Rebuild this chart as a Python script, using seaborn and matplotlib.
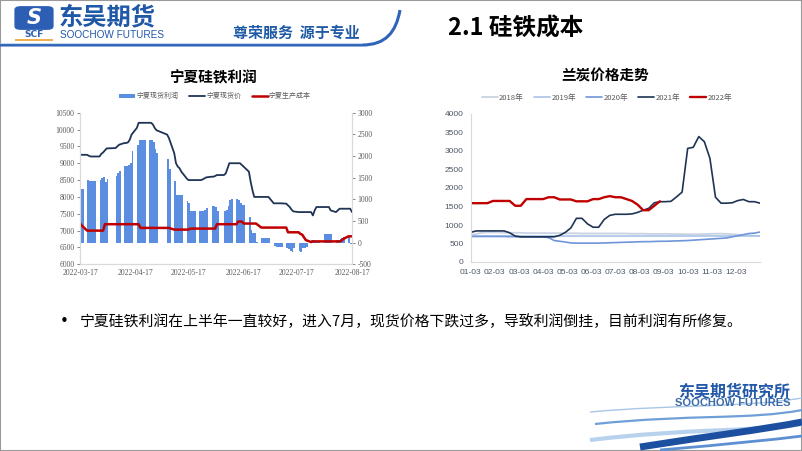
import numpy as np
import pandas as pd
import matplotlib
matplotlib.use("Agg")
import matplotlib.pyplot as plt
import seaborn as sns
from matplotlib.patches import Patch, PathPatch, FancyBboxPatch, Rectangle
from matplotlib.lines import Line2D
from matplotlib.path import Path
import matplotlib.dates as mdates

# ---------------- data: 宁夏硅铁利润 (trading days 2022-03-17 .. 2022-08-17) ----------------
holidays = ["2022-04-04", "2022-04-05", "2022-05-02", "2022-05-03", "2022-05-04", "2022-06-03"]
trade_dates = pd.bdate_range("2022-03-17", "2022-08-17", freq="C", holidays=holidays)

profit = [1230, 1230,
          1440, 1420, 1420, 1420, 1420,
          1440, 1490, 1510, 1410, 1480,
          1530, 1600, 1660,
          1780, 1780, 1790, 1850, 2120,
          2250, 2360, 2360, 2360, 2360,
          2370, 2370, 2330, 2170, 2080,
          1930, 1710,
          1420, 1110, 1110, 1110, 1110,
          950, 920, 720, 720, 720,
          720, 720, 730, 750, 790,
          840, 840, 820, 720,
          720, 760, 850, 990, 1000,
          1000, 990, 920, 880, 860,
          600, 300, 220, 220, 10,
          110, 110, 110, 110, 110,
          -80, -90, -90, -90, -90,
          -120, -150, -200, -210, -130,
          -200, -210, -130, -120, -110,
          50, 50, 40, 10, 10,
          210, 210, 210, 210, 210,
          60, 70, 80, 110, 120,
          130, -20, -30]

price = [9250, 9250,
         9250, 9220, 9200, 9200, 9200,
         9200, 9280, 9320, 9380, 9440,
         9450, 9500, 9550,
         9600, 9600, 9620, 9700, 9850,
         10050, 10200, 10200, 10200, 10200,
         10200, 10200, 10150, 10050, 9980,
         9850, 9750,
         9300, 9000, 8900, 8850, 8750,
         8550, 8500, 8500, 8500, 8500,
         8500, 8500, 8520, 8550, 8580,
         8600, 8600, 8620, 8650,
         8650, 8700, 8850, 9000, 9000,
         9000, 9000, 9000, 8950, 8900,
         8750, 8450, 8200, 8000, 8000,
         8000, 8000, 8000, 8000, 8000,
         7810, 7810, 7810, 7810, 7810,
         7800, 7750, 7700, 7620, 7570,
         7550, 7550, 7550, 7550, 7550,
         7550, 7450, 7600, 7700, 7700,
         7700, 7700, 7700, 7700, 7600,
         7550, 7600, 7650, 7650, 7650,
         7650, 7650, 7550]

cost = [7220, 7150,
        7000, 7000, 7000, 7000, 7000,
        7000, 7000, 7000, 7190, 7190,
        7190, 7190, 7190,
        7190, 7190, 7190, 7190, 7190,
        7190, 7190, 7080, 7080, 7080,
        7080, 7080, 7080, 7080, 7080,
        7080, 7080,
        7030, 7030, 7030, 7030, 7030,
        7030, 7030, 7060, 7060, 7060,
        7060, 7060, 7060, 7060, 7060,
        7060, 7060, 7060, 7190,
        7190, 7190, 7190, 7190, 7190,
        7190, 7270, 7270, 7270, 7210,
        7210, 7210, 7210, 7210, 7210,
        7090, 7090, 7090, 7090, 7090,
        7090, 7090, 7090, 7090, 7090,
        7090, 6950, 6950, 6950, 6950,
        6950, 6900, 6880, 6800, 6720,
        6660, 6680, 6680, 6680, 6680,
        6680, 6680, 6680, 6680, 6680,
        6680, 6680, 6680, 6700, 6750,
        6830, 6830, 6830]

left_xticks = ["2022-03-17", "2022-04-17", "2022-05-17", "2022-06-17", "2022-07-17", "2022-08-17"]
left_legend = ["宁夏现货利润", "宁夏现货价", "宁夏生产成本"]

# ---------------- data: 兰炭价格走势 (weekly, 53 points over a year) ----------------
month_labels = ["01-03", "02-03", "03-03", "04-03", "05-03", "06-03",
                "07-03", "08-03", "09-03", "10-03", "11-03", "12-03"]
weeks = np.arange(53)

y2018 = [730, 760, 790, 800, 800, 800, 790, 790, 790, 790, 780, 780, 780, 780,
         780, 780, 780, 775, 775, 775, 770, 770, 770, 770, 770, 770, 770, 770,
         770, 765, 765, 765, 760, 760, 760, 760, 755, 755, 755, 750, 750, 750,
         755, 760, 765, 765, 760, 750, 740, 730, 720, 710, 700]
y2019 = [700, 700, 700, 700, 700, 700, 700, 700, 700, 700, 700, 700, 700, 700,
         700, 700, 700, 700, 700, 700, 700, 700, 700, 700, 700, 700, 700, 700,
         700, 700, 700, 700, 700, 700, 700, 700, 700, 700, 700, 700, 700, 700,
         700, 700, 700, 700, 700, 700, 700, 700, 700, 700, 700]
y2020 = [690, 690, 690, 690, 690, 690, 690, 685, 685, 680, 680, 680, 680, 675,
         660, 580, 560, 540, 515, 510, 510, 510, 510, 510, 515, 520, 525, 530,
         535, 540, 545, 550, 550, 555, 560, 560, 565, 570, 575, 580, 590, 600,
         610, 620, 630, 640, 650, 680, 710, 740, 770, 780, 810]
y2021 = [800, 840, 840, 840, 840, 840, 840, 790, 700, 680, 680, 680, 680, 680,
         680, 680, 720, 800, 920, 1180, 1180, 1030, 940, 940, 1150, 1260, 1290, 1290,
         1290, 1300, 1340, 1400, 1450, 1600, 1630, 1630, 1640, 1760, 1890, 3070, 3100, 3390,
         3250, 2800, 1750, 1590, 1590, 1600, 1660, 1690, 1630, 1630, 1590]
y2022 = [1590, 1590, 1590, 1590, 1650, 1650, 1650, 1650, 1520, 1520, 1700, 1700, 1700, 1700,
         1750, 1750, 1690, 1690, 1690, 1640, 1640, 1640, 1700, 1700, 1750, 1780, 1750, 1750,
         1700, 1650, 1550, 1400, 1400, 1520, 1640]
year_labels = ["2018年", "2019年", "2020年", "2021年", "2022年"]

bullet_text = "宁夏硅铁利润在上半年一直较好，进入7月，现货价格下跌过多，导致利润倒挂，目前利润有所修复。"

# ---------------- styling ----------------
sns.set_theme(style="white")
plt.rcParams["font.family"] = ["Noto Sans CJK SC", "DejaVu Sans"]
plt.rcParams["axes.unicode_minus"] = False

W, H = 802, 451
fig = plt.figure(figsize=(W / 100, H / 100), dpi=100)
fig.patch.set_facecolor("white")


def fx(x):
    return x / W


def fy(y):
    return 1 - y / H


def stroke(pts, codes, **kw):
    verts = [(fx(x), fy(y)) for x, y in pts]
    fig.add_artist(PathPatch(Path(verts, codes), transform=fig.transFigure,
                             fill=False, **kw))


TICK_C = "#595959"
SPINE_C = "#d9d9d9"
BAR_C = "#5b8de0"
NAVY = "#1f3455"
RED = "#c00000"

# ---------------- left chart ----------------
axL = fig.add_axes([fx(80), fy(264.3), (352 - 80) / W, (264.3 - 112.7) / H])
axR = axL.twinx()
axR.bar(trade_dates, profit, width=1.0, align="edge", color=BAR_C, linewidth=0)
axL.set_zorder(axR.get_zorder() + 1)
axL.patch.set_visible(False)
sns.lineplot(x=trade_dates, y=price, ax=axL, color=NAVY, linewidth=1.3)
sns.lineplot(x=trade_dates, y=cost, ax=axL, color=RED, linewidth=1.8)

axL.set_ylim(6000, 10500)
axL.set_yticks(np.arange(6000, 10501, 500))
axR.set_ylim(-500, 3000)
axR.set_yticks(np.arange(-500, 3001, 500))
axL.set_xlim(pd.Timestamp(left_xticks[0]), pd.Timestamp(left_xticks[-1]))
axL.set_xticks(pd.to_datetime(left_xticks))
axL.xaxis.set_major_formatter(mdates.DateFormatter("%Y-%m-%d"))
axL.set_xlabel("")
axL.set_ylabel("")
axR.set_ylabel("")
for a in (axL, axR):
    for s in ("left", "right", "bottom"):
        a.spines[s].set_color(SPINE_C)
        a.spines[s].set_linewidth(0.8)
    a.spines["top"].set_visible(False)
    a.tick_params(axis="both", labelsize=5.5, colors=TICK_C, length=2, width=0.5, pad=2)
    for lbl in a.get_xticklabels() + a.get_yticklabels():
        lbl.set_fontfamily("Liberation Serif")
axL.tick_params(axis="x", pad=1.5)

handles = [Patch(facecolor=BAR_C, edgecolor="none"),
           Line2D([], [], color=NAVY, lw=1.3),
           Line2D([], [], color=RED, lw=1.8)]
fig.legend(handles, left_legend, loc="center", bbox_to_anchor=(fx(215), fy(96)),
           ncol=3, frameon=False, fontsize=5, handlelength=2.3, handleheight=0.5,
           columnspacing=1.5, handletextpad=0.2, labelcolor=TICK_C)

fig.text(fx(213), fy(77), "宁夏硅铁利润", ha="center", va="center",
         fontsize=10.5, fontweight="bold", color="black")

# ---------------- right chart ----------------
axC = fig.add_axes([fx(470.7), fy(262), (760 - 470.7) / W, 148 / H])
year_series = [y2018, y2019, y2020, y2021, y2022]
year_colors = ["#c9d3e3", "#a9c4e8", "#6f95da", NAVY, RED]
year_lw = [1.3, 1.2, 1.2, 1.2, 1.7]
for vals, c, lw, lab in zip(year_series, year_colors, year_lw, year_labels):
    sns.lineplot(x=weeks[:len(vals)], y=vals, ax=axC, color=c, linewidth=lw, label=lab)
axC.set_xlim(0, 52)
axC.set_ylim(0, 4000)
axC.set_yticks(np.arange(0, 4001, 500))
axC.set_xticks(np.arange(12) * 52 / 12)
axC.set_xticklabels(month_labels)
axC.set_xlabel("")
axC.set_ylabel("")
for s in ("top", "right"):
    axC.spines[s].set_visible(False)
for s in ("left", "bottom"):
    axC.spines[s].set_color(SPINE_C)
    axC.spines[s].set_linewidth(0.8)
axC.tick_params(axis="both", labelsize=6, colors="#4d5866", length=0, pad=5)
for lbl in axC.get_xticklabels() + axC.get_yticklabels():
    lbl.set_fontfamily("Liberation Sans")
h, l = axC.get_legend_handles_labels()
axC.get_legend().remove()
fig.legend(h, l, loc="center", bbox_to_anchor=(fx(607), fy(98)), ncol=5,
           frameon=False, fontsize=5.5, handlelength=2.1, columnspacing=1.3,
           handletextpad=0.2, labelcolor="#595959")
fig.text(fx(605), fy(75), "兰炭价格走势", ha="center", va="center",
         fontsize=10.5, fontweight="bold", color="black")

# ---------------- slide decoration ----------------
# frame
fig.add_artist(Rectangle((0, 0), 1, 1, transform=fig.transFigure, fill=False,
                         edgecolor="#9a9a9a", linewidth=1.5))
# header swoosh line
stroke([(0, 45), (362, 45), (386, 45), (396, 32), (400, 10)],
       [Path.MOVETO, Path.LINETO, Path.CURVE4, Path.CURVE4, Path.CURVE4],
       edgecolor="#2f65b8", linewidth=2.2)
stroke([(0, 42.5), (362, 42.5)], [Path.MOVETO, Path.LINETO],
       edgecolor="#c9d8ee", linewidth=0.8)
# logo icon
fig.add_artist(FancyBboxPatch((fx(16), fy(29)), fx(36) - fx(0), (29 - 7) / H,
                              boxstyle="round,pad=0.002,rounding_size=0.008",
                              transform=fig.transFigure, facecolor="#2c5fb3",
                              edgecolor="none"))
fig.text(fx(34), fy(18), "S", ha="center", va="center", fontsize=15,
         fontweight="bold", style="italic", color="white", family="DejaVu Sans")
fig.text(fx(34), fy(34.5), "SCF", ha="center", va="center", fontsize=6.5,
         fontweight="bold", color="#2c5fb3", family="DejaVu Sans")
stroke([(15, 39.5), (53, 39.5)], [Path.MOVETO, Path.LINETO], edgecolor="#f0a030", linewidth=1.2)
fig.text(fx(59), fy(17), "东吴期货", ha="left", va="center", fontsize=17.5,
         fontweight="bold", color="#2058a8")
fig.text(fx(60), fy(35.5), "SOOCHOW FUTURES", ha="left", va="center", fontsize=7.2,
         color="#2058a8", family="Liberation Sans")
fig.text(fx(233), fy(33), "尊荣服务  源于专业", ha="left", va="center", fontsize=10.8,
         fontweight="bold", color="#1f5aa6")
# page title
fig.text(fx(448), fy(29), "2.1 硅铁成本", ha="left", va="center", fontsize=17,
         fontweight="bold", color="black")

# bullet text
fig.text(fx(60), fy(321), "•", ha="left", va="center", fontsize=11, color="black",
         family="DejaVu Sans")
fig.text(fx(80), fy(322), bullet_text, ha="left", va="center", fontsize=10.7, color="black")

# bottom-right logo
fig.text(fx(734), fy(391), "东吴期货研究所", ha="center", va="center", fontsize=11.5,
         fontweight="bold", color="#2359a8")
fig.text(fx(733), fy(403), "SOOCHOW FUTURES", ha="center", va="center", fontsize=8,
         fontweight="bold", color="#3a6aa8", family="Liberation Sans")
swooshes = [
    ([(590, 412), (680, 404), (740, 408), (802, 398)], "#a8c6e6", 1.0),
    ([(595, 424), (690, 414), (750, 420), (802, 410)], "#6f9fd8", 1.6),
    ([(590, 440), (690, 428), (750, 432), (802, 424)], "#b8d2ee", 3.0),
    ([(640, 447), (710, 436), (760, 430), (802, 422)], "#1c4fa0", 5.0),
    ([(660, 450), (730, 444), (770, 440), (802, 436)], "#5d8fd2", 2.0),
]
for pts, col, lw in swooshes:
    stroke(pts, [Path.MOVETO, Path.CURVE4, Path.CURVE4, Path.CURVE4],
           edgecolor=col, linewidth=lw)

fig.savefig("out.png", dpi=100)
